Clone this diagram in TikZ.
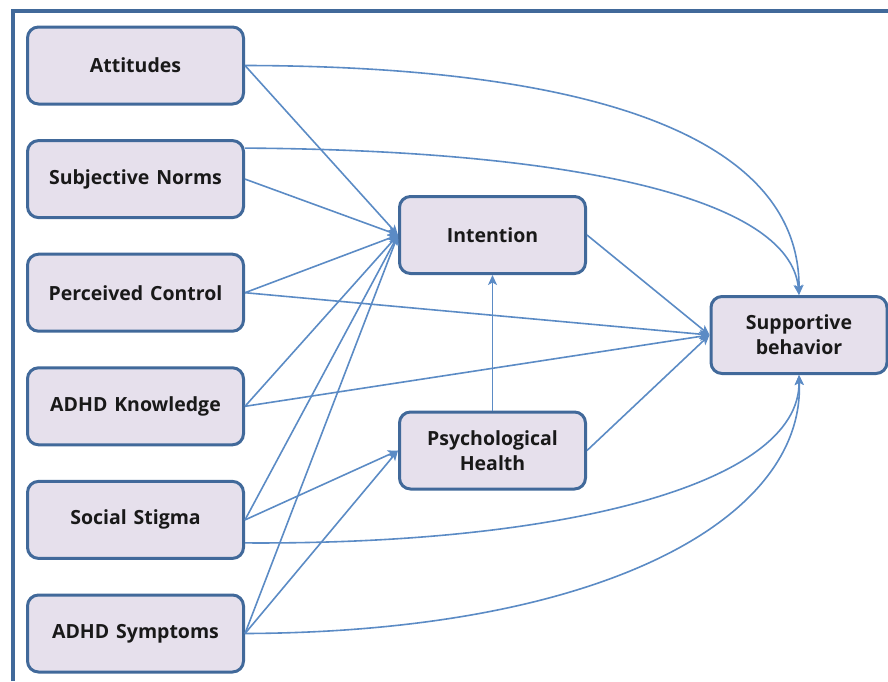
\documentclass[tikz,border=0pt]{standalone}
\usepackage{fontspec}
\setmainfont{Open Sans}[WordSpace=1.35]
\usetikzlibrary{arrows.meta,positioning,calc}
\definecolor{BoxFill}{HTML}{E6E0EC}
\definecolor{BoxLine}{HTML}{41699A}
\definecolor{PathLine}{HTML}{5B8BC5}

\begin{document}
\begin{tikzpicture}[
  x=1pt, y=-1pt,
  node distance=33.6pt,
  box/.style={draw=BoxLine, line width=3pt, rounded corners=11pt, fill=BoxFill,
    align=center, font=\fontsize{19.5}{25}\selectfont\bfseries, text=black!90},
  leftbox/.style={box, minimum width=216pt, minimum height=77pt},
  midbox/.style={box, minimum width=186pt, minimum height=77pt},
  arrow/.style={-{Stealth[length=10pt, width=9pt, inset=2.5pt]}, draw=PathLine, line width=1.6pt}
]
\useasboundingbox (0,0) rectangle (888,681);
% frame
\draw[BoxLine, line width=3.5pt] (13,681) -- (13,11) -- (888,11);

% left column
\node[leftbox] (attitudes) at (135.5,65.5) {Attitudes};
\node[leftbox, below=of attitudes] (norms) {Subjective Norms};
\node[leftbox, below=of norms] (control) {Perceived Control};
\node[leftbox, below=of control] (knowledge) {ADHD Knowledge};
\node[leftbox, below=of knowledge] (stigma) {Social Stigma};
\node[leftbox, below=of stigma] (symptoms) {ADHD Symptoms};

% mediators and outcome
\node[midbox] (intention) at (492.5,235) {Intention};
\node[midbox] (health) at (492.5,450.5) {Psychological\\Health};
\node[box, minimum width=176pt, minimum height=77pt] (support) at (799,335) {Supportive\\behavior};

% to intention
\foreach \src in {attitudes,norms,control,knowledge,stigma,symptoms}
  \draw[arrow] (\src.east) -- (intention.west);

% to psychological health
\draw[arrow] (stigma.east) -- (health.west);
\draw[arrow] (symptoms.east) -- (health.west);

% to supportive behavior
\draw[arrow] (attitudes.east) .. controls (560,66) and (800,125) .. (support.north);
\draw[arrow] ($(norms.east)+(0,-31)$) .. controls (560,150) and (790,195) .. (support.north);
\draw[arrow] (control.east) -- (support.west);
\draw[arrow] (knowledge.east) -- (support.west);
\draw[arrow] ($(stigma.east)+(0,23)$) .. controls (560,545) and (800,485) .. (support.south);
\draw[arrow] (symptoms.east) .. controls (600,632) and (805,520) .. (support.south);
\draw[arrow] (intention.east) -- (support.west);
\draw[arrow] (health.east) -- (support.west);
\draw[arrow] (health.north) -- (intention.south);
\end{tikzpicture}
\end{document}
